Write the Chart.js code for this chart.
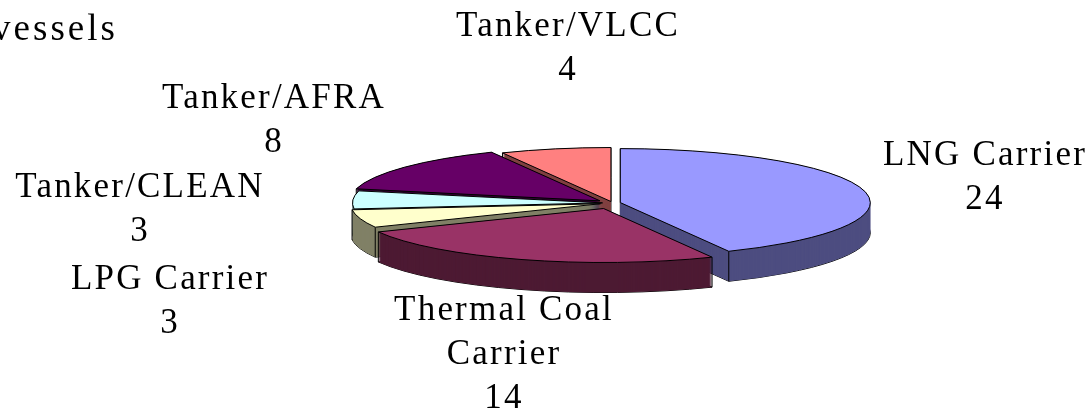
<!DOCTYPE html>
<html>
<head>
<meta charset="utf-8">
<script src="https://cdn.jsdelivr.net/npm/chart.js@4"></script>
<style>
    html, body { margin: 0; padding: 0; background: #fff; overflow: hidden; }
    canvas { display: block; }
</style>
</head>
<body>
<canvas id="vesselChart" width="1091" height="412"></canvas>
<script>
// Chart data
const categories = ['LNG Carrier', 'Thermal Coal Carrier', 'LPG Carrier', 'Tanker/CLEAN', 'Tanker/AFRA', 'Tanker/VLCC'];
const vesselCounts = [24, 14, 3, 3, 8, 4];
const titleText = 'vessels';

// Slice styles
const topColors = ['#9999ff', '#993366', '#ffffcc', '#ccffff', '#660066', '#ff8080'];
const wallColors = ['#4d4d80', '#4d1a33', '#808066', '#668080', '#330033', '#804040'];
const explode = [8, 27, 12.5, 10, 16, 7];

// Label anchors: centre x and first baseline of each label block
const labelAnchors = [
    [985, 165], [504, 320], [170, 289], [140, 197], [274, 108], [568, 36]
];
const LINE_HEIGHT = 44;

const PIE_RADIUS = 250;
const SQUASH = 0.216;
const DEPTH = 30;

function sectorPath(ctx, arc, dy) {
    ctx.beginPath();
    ctx.moveTo(arc.x, arc.screenY + dy);
    ctx.ellipse(arc.x, arc.screenY + dy, arc.outerRadius, arc.outerRadius * SQUASH, 0, arc.startAngle, arc.endAngle);
    ctx.closePath();
}

/**
 * Tilted pie: pushes slices apart, draws the side walls, then squashes the
 * library's own arcs into ellipses
 */
const tiltedPie = {
    id: 'tiltedPie',
    afterDatasetsUpdate(chart) {
        const arcs = chart.getDatasetMeta(0).data;
        const cy = (chart.chartArea.top + chart.chartArea.bottom) / 2;
        arcs.forEach((arc, i) => {
            const mid = (arc.startAngle + arc.endAngle) / 2;
            arc.x += Math.cos(mid) * explode[i];
            arc.y += Math.sin(mid) * explode[i];
            arc.screenY = cy + (arc.y - cy) * SQUASH;
        });
    },
    beforeDatasetsDraw(chart) {
        const ctx = chart.ctx;
        const arcs = chart.getDatasetMeta(0).data;
        const cy = (chart.chartArea.top + chart.chartArea.bottom) / 2;

        // Back slices first
        const order = arcs.map((arc, i) => i).sort((a, b) => {
            const front = arc => arc.screenY + Math.sin((arc.startAngle + arc.endAngle) / 2) * arc.outerRadius * SQUASH;
            return front(arcs[a]) - front(arcs[b]);
        });

        ctx.save();
        ctx.strokeStyle = '#000';
        ctx.lineWidth = 1;
        order.forEach(i => {
            const arc = arcs[i];
            sectorPath(ctx, arc, DEPTH);
            ctx.stroke();
            ctx.fillStyle = wallColors[i];
            for (let d = DEPTH; d >= 0; d--) {
                sectorPath(ctx, arc, d);
                ctx.fill();
            }
            [arc.startAngle, arc.endAngle].forEach(a => {
                const px = arc.x + Math.cos(a) * arc.outerRadius;
                const py = arc.screenY + Math.sin(a) * arc.outerRadius * SQUASH;
                ctx.beginPath();
                ctx.moveTo(px, py);
                ctx.lineTo(px, py + DEPTH);
                ctx.stroke();
            });
        });
        ctx.restore();

        ctx.save();
        ctx.translate(0, cy);
        ctx.scale(1, SQUASH);
        ctx.translate(0, -cy);
    },
    afterDatasetsDraw(chart) {
        const ctx = chart.ctx;
        ctx.restore();

        ctx.save();
        ctx.strokeStyle = '#000';
        ctx.lineWidth = 1;
        chart.getDatasetMeta(0).data.forEach(arc => {
            sectorPath(ctx, arc, 0);
            ctx.stroke();
        });
        ctx.restore();

        drawLabels(ctx);
    }
};

function drawLabels(ctx) {
    ctx.save();
    ctx.fillStyle = '#000';
    ctx.textAlign = 'center';
    ctx.font = '37px "Liberation Serif"';
    ctx.letterSpacing = '3px';
    ctx.fillText(titleText, 55, 40);
    ctx.font = '35px "Liberation Serif"';
    ctx.letterSpacing = '2.2px';
    categories.forEach((name, i) => {
        const lines = name === 'Thermal Coal Carrier' ? ['Thermal Coal', 'Carrier'] : [name];
        lines.concat(String(vesselCounts[i])).forEach((line, n) => {
            ctx.fillText(line, labelAnchors[i][0], labelAnchors[i][1] + n * LINE_HEIGHT);
        });
    });
    ctx.restore();
}

new Chart(document.getElementById('vesselChart'), {
    type: 'pie',
    data: {
        labels: categories,
        datasets: [{
            data: vesselCounts,
            backgroundColor: topColors,
            borderWidth: 0,
            radius: PIE_RADIUS
        }]
    },
    options: {
        responsive: false,
        devicePixelRatio: 1,
        animation: false,
        layout: { padding: { left: 134, bottom: 6 } },
        plugins: {
            legend: { display: false },
            tooltip: { enabled: false }
        }
    },
    plugins: [tiltedPie]
});
</script>
</body>
</html>
